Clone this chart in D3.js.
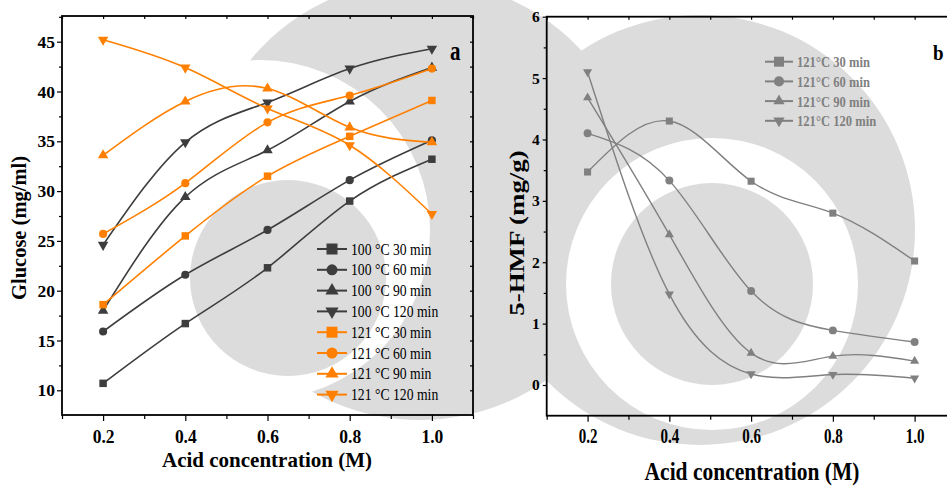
<!DOCTYPE html>
<html>
<head>
<meta charset="utf-8">
<script src="https://cdn.jsdelivr.net/npm/d3@7"></script>
<style>
body { margin: 0; background: #fff; }
svg { display: block; }
text { font-family: "Liberation Serif", "Times New Roman", serif; }
</style>
</head>
<body>
<script>
var width = 947,
    height = 486;

// acid concentration (M), shared x values
var acid = [0.2, 0.4, 0.6, 0.8, 1.0];

// panel a : glucose (mg/ml)
var glucoseLabels = ["100 °C 30 min", "100 °C 60 min", "100 °C 90 min", "100 °C 120 min",
                     "121 °C 30 min", "121 °C 60 min", "121 °C 90 min", "121 °C 120 min"];
var glu100_30  = [10.7, 16.7, 22.3, 29.0, 33.2];
var glu100_60  = [15.9, 21.6, 26.1, 31.1, 35.1];
var glu100_90  = [18.0, 29.4, 34.1, 39.0, 42.4];
var glu100_120 = [24.6, 34.9, 38.9, 42.3, 44.3];
var glu121_30  = [18.6, 25.5, 31.5, 35.5, 39.1];
var glu121_60  = [25.7, 30.8, 36.9, 39.6, 42.3];
var glu121_90  = [33.6, 39.0, 40.3, 36.4, 34.9];
var glu121_120 = [45.2, 42.4, 38.3, 34.6, 27.7];

// panel b : 5-HMF (mg/g)
var hmfLabels = ["121°C 30 min", "121°C 60 min", "121°C 90 min", "121°C 120 min"];
var hmf121_30  = [3.47, 4.30, 3.32, 2.80, 2.02];
var hmf121_60  = [4.10, 3.33, 1.53, 0.89, 0.70];
var hmf121_90  = [4.68, 2.45, 0.52, 0.47, 0.39];
var hmf121_120 = [5.10, 1.48, 0.18, 0.17, 0.11];

var xTicks = [0.2, 0.4, 0.6, 0.8, 1.0];
var xMinor = [0.1, 0.3, 0.5, 0.7, 0.9, 1.1];
var yTicksA = [10, 15, 20, 25, 30, 35, 40, 45];
var yMinorA = [12.5, 17.5, 22.5, 27.5, 32.5, 37.5, 42.5, 47.5];
var yTicksB = [0, 1, 2, 3, 4, 5, 6];
var yMinorB = [0.5, 1.5, 2.5, 3.5, 4.5, 5.5];

var dark = "#3d3d3d", orange = "#ff8000", grey = "#808080";
var shapes = ["square", "circle", "up", "down"];

var seriesA = [glu100_30, glu100_60, glu100_90, glu100_120,
               glu121_30, glu121_60, glu121_90, glu121_120].map(function(v, i) {
  return { name: glucoseLabels[i], values: v, color: i < 4 ? dark : orange, shape: shapes[i % 4] };
});
var seriesB = [hmf121_30, hmf121_60, hmf121_90, hmf121_120].map(function(v, i) {
  return { name: hmfLabels[i], values: v, color: grey, shape: shapes[i] };
});

var svg = d3.select("body").append("svg")
    .attr("width", width)
    .attr("height", height);

/* ---- faint watermark (logo) behind the plots ---- */
var wm = svg.append("g");
function blob(cx, cy, r, fill) {
  wm.append("circle").attr("cx", cx).attr("cy", cy).attr("r", r).attr("fill", fill);
}
blob(420, 200, 220, "#dcdcdc");
blob(700, 230, 215, "#dcdcdc");
blob(260, 230, 170, "#fff");
blob(712, 284, 146, "#fff");
blob(288, 278, 98, "#dcdcdc");
blob(712, 284, 101, "#dcdcdc");

/* ---- scales ---- */
var xA = d3.scaleLinear().domain([0.1, 1.1]).range([62, 473]);
var yA = d3.scaleLinear().domain([7.52, 47.58]).range([415, 16]);
var xB = d3.scaleLinear().domain([0.1, 1.1]).range([546.7, 955.5]);
var yB = d3.scaleLinear().domain([-0.5, 6]).range([415.7, 16.7]);

function symbolPath(shape, size) {
  var type = shape == "square" ? d3.symbolSquare : shape == "circle" ? d3.symbolCircle : d3.symbolTriangle;
  return d3.symbol().type(type).size(size)();
}
function markerTransform(shape, x, y) {
  return "translate(" + x + "," + y + ")" + (shape == "down" ? " rotate(180)" : "");
}

function drawPanel(x, y, series, opt) {
  var g = svg.append("g");

  // minor + major ticks
  var bottom = g.append("g").attr("transform", "translate(0," + y.range()[0] + ")");
  bottom.call(d3.axisBottom(x).tickValues(xMinor).tickSize(4).tickFormat(""));
  var bMaj = bottom.append("g").call(d3.axisBottom(x).tickValues(xTicks).tickSize(6).tickFormat(d3.format(".1f")));
  bMaj.selectAll("text")
    .attr("y", 0).attr("dy", 0)
    .attr("transform", "translate(0," + opt.xLabelBase + ") scale(1," + opt.xLabelStretch + ")")
    .style("font-size", opt.tickFont + "px").style("font-weight", "bold").attr("fill", "#000");

  var left = g.append("g").attr("transform", "translate(" + x.range()[0] + ",0)");
  left.call(d3.axisLeft(y).tickValues(opt.yMinor).tickSize(3).tickFormat(""));
  left.append("g").call(d3.axisLeft(y).tickValues(opt.yTicks).tickSize(opt.yTick).tickPadding(opt.yPad).tickFormat(d3.format("d")))
    .selectAll("text").style("font-size", opt.yTickFont + "px").style("font-weight", "bold").attr("fill", "#000");

  g.append("g").attr("transform", "translate(0," + y.range()[1] + ")")
    .call(d3.axisTop(x).tickValues(d3.range(11).map(function(i) { return 0.1 + i * 0.1; })).tickSize(-3).tickFormat(""));
  if (opt.rightAxis) {
    g.append("g").attr("transform", "translate(" + x.range()[1] + ",0)")
      .call(d3.axisRight(y).tickValues(opt.yTicks.concat(opt.yMinor)).tickSize(-3).tickFormat(""));
  }
  g.selectAll(".domain").remove();
  g.selectAll(".tick line").attr("stroke", "#000").attr("stroke-width", 1.2);

  g.append("rect")
    .attr("x", x.range()[0]).attr("y", y.range()[1])
    .attr("width", x.range()[1] - x.range()[0])
    .attr("height", y.range()[0] - y.range()[1])
    .attr("fill", "none").attr("stroke", "#000").attr("stroke-width", 1.8);

  var line = d3.line()
    .x(function(d) { return x(d[0]); })
    .y(function(d) { return y(d[1]); })
    .curve(d3.curveNatural);

  series.forEach(function(s) {
    var pts = acid.map(function(a, i) { return [a, s.values[i]]; });
    g.append("path").attr("d", line(pts))
      .attr("fill", "none").attr("stroke", s.color).attr("stroke-width", opt.lineWidth);
    g.selectAll(null).data(pts).enter().append("path")
      .attr("d", symbolPath(s.shape, opt.markSize[s.shape]))
      .attr("transform", function(d) { return markerTransform(s.shape, x(d[0]), y(d[1])); })
      .attr("fill", s.color);
  });

  // legend
  var lg = g.append("g");
  series.forEach(function(s, i) {
    var cy = opt.legY + i * opt.legStep;
    lg.append("line").attr("x1", opt.legX - opt.legHalf).attr("x2", opt.legX + opt.legHalf)
      .attr("y1", cy).attr("y2", cy).attr("stroke", s.color).attr("stroke-width", 2);
    lg.append("path").attr("d", symbolPath(s.shape, opt.legSize[s.shape]))
      .attr("transform", markerTransform(s.shape, opt.legX, cy)).attr("fill", s.color);
    lg.append("text")
      .attr("transform", "translate(" + (opt.legX + opt.legHalf + 4) + "," + (cy + 5.5) + ") scale(" + opt.legSquash + ",1)")
      .style("font-size", opt.legFont + "px").style("font-weight", opt.legWeight)
      .attr("fill", opt.legColor).text(s.name);
  });
  return g;
}

drawPanel(xA, yA, seriesA, {
  xLabelBase: 27.5, xLabelStretch: 1.13, tickFont: 17.5,
  yTicks: yTicksA, yMinor: yMinorA, yTick: 5, yPad: 2, yTickFont: 17.5,
  rightAxis: true, lineWidth: 1.6,
  markSize: { square: 56, circle: 52, up: 48, down: 48 },
  legX: 332, legY: 249, legStep: 20.8, legHalf: 15,
  legSize: { square: 121, circle: 95, up: 75, down: 75 },
  legFont: 16.5, legSquash: 0.83, legWeight: "normal", legColor: "#000"
});

drawPanel(xB, yB, seriesB, {
  xLabelBase: 27, xLabelStretch: 1.34, tickFont: 15,
  yTicks: yTicksB, yMinor: yMinorB, yTick: 4, yPad: 3, yTickFont: 15.5,
  rightAxis: false, lineWidth: 1.4,
  markSize: { square: 50, circle: 50, up: 36, down: 36 },
  legX: 779, legY: 61.7, legStep: 19.7, legHalf: 14,
  legSize: { square: 100, circle: 80, up: 55, down: 55 },
  legFont: 15, legSquash: 0.84, legWeight: "bold", legColor: grey
});

/* ---- titles and panel letters ---- */
svg.append("text").attr("x", 267).attr("y", 467).attr("text-anchor", "middle")
  .style("font-size", "21px").style("font-weight", "bold").text("Acid concentration (M)");
svg.append("text").attr("transform", "translate(26,228) rotate(-90)").attr("text-anchor", "middle")
  .style("font-size", "20.5px").style("font-weight", "bold").text("Glucose (mg/ml)");
svg.append("text").attr("transform", "translate(752,479.5) scale(1,1.2)").attr("text-anchor", "middle")
  .style("font-size", "21.5px").style("font-weight", "bold").text("Acid concentration (M)");
svg.append("text").attr("transform", "translate(524,233) scale(1,1.28) rotate(-90)").attr("text-anchor", "middle")
  .style("font-size", "21px").style("font-weight", "bold").text("5-HMF (mg/g)");
svg.append("text").attr("transform", "translate(450,60) scale(1,1.3)")
  .style("font-size", "21px").style("font-weight", "bold").text("a");
svg.append("text").attr("transform", "translate(933,60) scale(1,1.15)")
  .style("font-size", "19px").style("font-weight", "bold").text("b");
</script>
</body>
</html>
